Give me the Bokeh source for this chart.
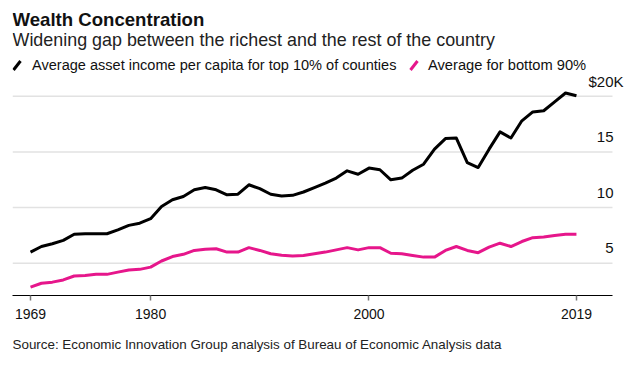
from bokeh.plotting import figure
from bokeh.layouts import column
from bokeh.models import Range1d, FixedTicker, Label
from bokeh.core.properties import value
from bokeh.embed import file_html
from bokeh.resources import INLINE

# ---- data ----
years = list(range(1969, 2020))
top10 = [6.0, 6.5, 6.75, 7.05, 7.6, 7.65, 7.65, 7.65, 8.0, 8.4, 8.6, 9.0,
         10.1, 10.7, 11.0, 11.6, 11.8, 11.6, 11.15, 11.2, 12.05, 11.7,
         11.2, 11.05, 11.1, 11.4, 11.8, 12.2, 12.65, 13.3, 13.0, 13.55,
         13.4, 12.5, 12.65, 13.35, 13.9, 15.25, 16.2, 16.25, 14.05, 13.6,
         15.25, 16.8, 16.25, 17.8, 18.6, 18.7, 19.5, 20.3, 20.05]
bottom90 = [2.85, 3.2, 3.3, 3.5, 3.85, 3.9, 4.0, 4.0, 4.2, 4.4, 4.45, 4.65,
            5.2, 5.6, 5.8, 6.15, 6.25, 6.3, 6.0, 6.0, 6.4, 6.15,
            5.85, 5.72, 5.65, 5.7, 5.85, 6.0, 6.2, 6.4, 6.2, 6.4,
            6.4, 5.9, 5.85, 5.7, 5.55, 5.55, 6.15, 6.5, 6.15, 5.95,
            6.45, 6.8, 6.5, 6.95, 7.3, 7.35, 7.5, 7.6, 7.6]
x_ticks = [1969, 1980, 2000, 2019]
y_ticks = [5, 10, 15, 20]
y_tick_labels = ["5", "10", "15", "$20K"]

title = "Wealth Concentration"
subtitle = "Widening gap between the richest and the rest of the country"
legend_labels = ["Average asset income per capita for top 10% of counties",
                 "Average for bottom 90%"]
source = "Source: Economic Innovation Group analysis of Bureau of Economic Analysis data"

BLACK = "#000000"
PINK = "#e6168b"
FONT = "Liberation Sans"
W = 643
HDR_H = 74
MAIN_H = 256
FTR_H = 39
BL, BR = 12, 13            # left / right borders shared by all stacked figures

X0, X_AXIS_END, X1 = 1967.35, 2022.3, 2023.95
Y0, Y1 = 2.10, 21.96


def blank(h):
    # pixel-like coordinate system: x = page x, y = distance from the figure top
    f = figure(width=W, height=h, x_range=Range1d(BL, W - BR), y_range=Range1d(h, 0),
               x_axis_type=None, y_axis_type=None, output_backend="svg",
               toolbar_location=None, title=None,
               min_border_left=BL, min_border_right=BR, min_border_top=0, min_border_bottom=0)
    f.outline_line_color = None
    return f


# ---- header ----
hdr = blank(HDR_H)
hdr.text(x=[12], y=[18.5], text=[title], text_font=value(FONT), text_font_style="bold",
         text_font_size="18.6px", text_baseline="middle", text_color="#111111")
hdr.text(x=[12], y=[39], text=[subtitle], text_font=value(FONT),
         text_font_size="17.9px", text_baseline="middle", text_color="#222222")
hdr.segment(x0=[13], y0=[69.5], x1=[20], y1=[60.5], line_color=BLACK, line_width=3)
hdr.text(x=[31.5], y=[64.5], text=[legend_labels[0]], text_font=value(FONT),
         text_font_size="14.55px", text_baseline="middle", text_color="#111111")
hdr.segment(x0=[410], y0=[69.5], x1=[417], y1=[60.5], line_color=PINK, line_width=3)
hdr.text(x=[427.5], y=[64.5], text=[legend_labels[1]], text_font=value(FONT),
         text_font_size="14.7px", text_baseline="middle", text_color="#111111")

# ---- main chart ----
p = figure(width=W, height=MAIN_H, x_range=Range1d(X0, X1),
           y_range=Range1d(Y0, Y1), y_axis_type=None, title=None,
           output_backend="svg", toolbar_location=None,
           min_border_left=BL, min_border_right=BR, min_border_top=0, min_border_bottom=35)
p.outline_line_color = None
p.xgrid.visible = False

# horizontal gridlines
p.segment(x0=[X0] * len(y_ticks), x1=[X_AXIS_END] * len(y_ticks), y0=y_ticks, y1=y_ticks,
          line_color="#e2e2e2", line_width=1.5)

p.line(years, top10, line_color=BLACK, line_width=3, line_join="round")
p.line(years, bottom90, line_color=PINK, line_width=3, line_join="round")

ax = p.xaxis[0]
ax.ticker = FixedTicker(ticks=x_ticks)
ax.bounds = (X0, X_AXIS_END)
ax.axis_line_color = BLACK
ax.axis_line_width = 1.2
ax.major_tick_line_color = "#777777"
ax.major_tick_line_width = 1.5
ax.major_tick_out = 5
ax.major_tick_in = 0
ax.minor_tick_out = 0
ax.minor_tick_in = 0
ax.major_label_standoff = 8
ax.major_label_text_font = FONT
ax.major_label_text_font_size = "14px"
ax.major_label_text_color = "#111111"

for v, lab in zip(y_ticks, y_tick_labels):
    if lab.startswith("$"):
        p.add_layout(Label(x=X_AXIS_END, y=v, text=lab, text_align="left", x_offset=-24,
                           y_offset=15, text_baseline="alphabetic", text_font=FONT,
                           text_font_size="15px", text_color="#111111"))
    else:
        p.add_layout(Label(x=X_AXIS_END, y=v, text=lab, text_align="right", x_offset=1,
                           y_offset=15, text_baseline="alphabetic", text_font=FONT,
                           text_font_size="15px", text_color="#111111"))

# ---- footer ----
ftr = blank(FTR_H)
ftr.text(x=[12], y=[13.5], text=[source], text_font=value(FONT),
         text_font_size="13.4px", text_baseline="middle", text_color="#222222")

layout = column(hdr, p, ftr, spacing=0)
open("out.html", "w").write(file_html(layout, INLINE))
